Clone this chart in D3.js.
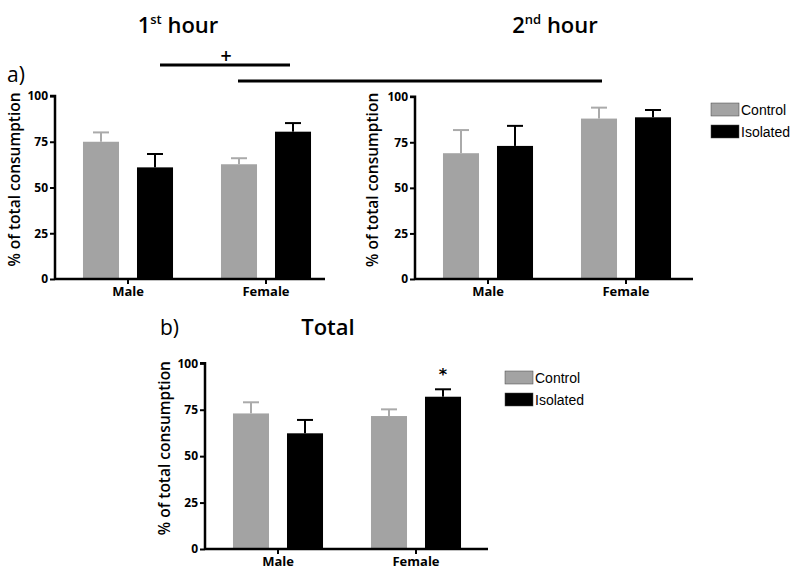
<!DOCTYPE html>
<html>
<head>
<meta charset="utf-8">
<script src="https://cdn.jsdelivr.net/npm/d3@7"></script>
<style>
  body { margin: 0; background: #fff; }
  svg text { fill: #000; }
</style>
</head>
<body>
<svg id="chart" width="800" height="577"></svg>
<script>
const groups = ["Male", "Female"];
const treatments = ["Control", "Isolated"];
const yTicks = [0, 25, 50, 75, 100];

// means and SEM, [Male, Female]
const hour1Control = [75, 62.7];
const hour1ControlErr = [5.1, 3.3];
const hour1Isolated = [61, 80.5];
const hour1IsolatedErr = [7.3, 4.7];

const hour2Control = [69, 88];
const hour2ControlErr = [12.7, 6];
const hour2Isolated = [73, 88.7];
const hour2IsolatedErr = [11, 4];

const totalControl = [73, 71.6];
const totalControlErr = [6, 3.6];
const totalIsolated = [62.3, 82];
const totalIsolatedErr = [7.2, 4];

const colors = { Control: "#a3a3a3", Isolated: "#000000" };
const errColors = { Control: "#aaaaaa", Isolated: "#000000" };

const svg = d3.select("#chart");

function rows(ctrl, ctrlErr, iso, isoErr) {
  const out = [];
  groups.forEach((g, i) => {
    out.push({ group: g, treat: "Control", value: ctrl[i], err: ctrlErr[i] });
    out.push({ group: g, treat: "Isolated", value: iso[i], err: isoErr[i] });
  });
  return out;
}

function drawPanel(p) {
  const g = svg.append("g");

  const y = d3.scaleLinear().domain([0, 100]).range([p.bottom, p.top]);

  const x = d3.scaleBand()
    .domain(groups)
    .range([p.left + 4, p.left + 280]);

  const xSub = d3.scaleBand()
    .domain(treatments)
    .range([0, x.bandwidth()])
    .paddingInner(0.333)
    .paddingOuter(0.444);

  // bars
  g.selectAll("rect.bar")
    .data(p.data)
    .enter()
    .append("rect")
    .attr("class", "bar")
    .attr("x", d => x(d.group) + xSub(d.treat))
    .attr("width", xSub.bandwidth())
    .attr("y", d => y(d.value))
    .attr("height", d => y(0) - y(d.value))
    .attr("fill", d => colors[d.treat]);

  // upward error bars with cap
  const eb = g.selectAll("g.err")
    .data(p.data)
    .enter()
    .append("g")
    .attr("stroke", d => errColors[d.treat])
    .attr("stroke-width", 2);

  eb.append("line")
    .attr("x1", d => x(d.group) + xSub(d.treat) + xSub.bandwidth() / 2)
    .attr("x2", d => x(d.group) + xSub(d.treat) + xSub.bandwidth() / 2)
    .attr("y1", d => y(d.value))
    .attr("y2", d => y(d.value + d.err));

  eb.append("line")
    .attr("x1", d => x(d.group) + xSub(d.treat) + xSub.bandwidth() / 2 - 8)
    .attr("x2", d => x(d.group) + xSub(d.treat) + xSub.bandwidth() / 2 + 8)
    .attr("y1", d => y(d.value + d.err))
    .attr("y2", d => y(d.value + d.err));

  // y axis
  const yAxis = g.append("g")
    .attr("transform", `translate(${p.left},0)`)
    .call(d3.axisLeft(y).tickValues(yTicks).tickSize(5).tickPadding(2));
  yAxis.select(".domain").attr("stroke-width", 2.5).attr("d", `M-5,${p.top}H0V${p.bottom}`);
  yAxis.selectAll(".tick line").attr("stroke-width", 2);
  yAxis.selectAll("text")
    .attr("font-family", "'Open Sans', sans-serif")
    .attr("font-weight", 700)
    .attr("font-size", 12);

  // x axis
  const xAxis = g.append("g")
    .attr("transform", `translate(0,${p.bottom})`)
    .call(d3.axisBottom(x).tickSize(5).tickPadding(3));
  xAxis.select(".domain").attr("stroke-width", 2.5).attr("d", `M${p.left},0H${p.right}`);
  xAxis.selectAll(".tick line").attr("stroke-width", 2);
  xAxis.selectAll("text")
    .attr("font-family", "'Open Sans', sans-serif")
    .attr("font-weight", 700)
    .attr("font-size", 13);

  // y label
  g.append("text")
    .attr("transform", `translate(${p.labelX},${(p.top + p.bottom) / 2 - 8}) rotate(-90)`)
    .attr("text-anchor", "middle")
    .attr("font-family", "'Open Sans', sans-serif")
    .attr("font-weight", 600)
    .attr("font-size", 15.5)
    .text("% of total consumption");

  // title
  const t = g.append("text")
    .attr("x", p.titleX)
    .attr("y", p.titleY)
    .attr("text-anchor", "middle")
    .attr("font-family", "'Open Sans', sans-serif")
    .attr("font-weight", 600)
    .attr("font-size", 22);
  t.append("tspan").text(p.title[0]);
  if (p.title[1]) {
    t.append("tspan").attr("dy", -9).attr("font-size", 13).text(p.title[1]);
    t.append("tspan").attr("dy", 9).text(p.title[2]);
  }

  if (p.legend) {
    const lg = g.append("g").attr("transform", `translate(${p.legend[0]},${p.legend[1]})`);
    treatments.forEach((tr, i) => {
      lg.append("rect")
        .attr("x", 0).attr("y", i * 22)
        .attr("width", 28).attr("height", 13)
        .attr("fill", colors[tr])
        .attr("stroke", "#444").attr("stroke-width", 0.5);
      lg.append("text")
        .attr("x", 30).attr("y", i * 22 + 12)
        .attr("font-family", "'Liberation Sans', Arial, sans-serif")
        .attr("font-size", 14)
        .text(tr);
    });
  }

  return { x, xSub, y };
}

drawPanel({
  data: rows(hour1Control, hour1ControlErr, hour1Isolated, hour1IsolatedErr),
  left: 55, right: 325, top: 96, bottom: 279, labelX: 20,
  title: ["1", "st", " hour"], titleX: 178, titleY: 33,
  legend: null
});

drawPanel({
  data: rows(hour2Control, hour2ControlErr, hour2Isolated, hour2IsolatedErr),
  left: 415, right: 693, top: 96.7, bottom: 279, labelX: 378,
  title: ["2", "nd", "  hour"], titleX: 555, titleY: 33,
  legend: [711, 103]
});

const pTotal = drawPanel({
  data: rows(totalControl, totalControlErr, totalIsolated, totalIsolatedErr),
  left: 205, right: 488, top: 363.3, bottom: 549, labelX: 170,
  title: ["Total"], titleX: 328, titleY: 335,
  legend: [505, 371]
});

// panel letters
svg.append("text").attr("x", 7).attr("y", 82)
  .attr("font-family", "'Open Sans', sans-serif").attr("font-size", 21).text("a)");
svg.append("text").attr("x", 160).attr("y", 335)
  .attr("font-family", "'Open Sans', sans-serif").attr("font-size", 21).text("b)");

// significance lines, panel a
svg.append("line").attr("x1", 160).attr("x2", 290).attr("y1", 65).attr("y2", 65)
  .attr("stroke", "#000").attr("stroke-width", 3);
svg.append("text").attr("x", 226).attr("y", 61).attr("text-anchor", "middle")
  .attr("font-family", "'DejaVu Sans', sans-serif").attr("font-weight", 700)
  .attr("font-size", 15).text("+");
svg.append("line").attr("x1", 238).attr("x2", 602).attr("y1", 81).attr("y2", 81)
  .attr("stroke", "#000").attr("stroke-width", 3);

// asterisk above female isolated (total)
const fi = pTotal.x("Female") + pTotal.xSub("Isolated") + pTotal.xSub.bandwidth() / 2;
svg.append("text").attr("x", fi).attr("y", 380).attr("text-anchor", "middle")
  .attr("font-family", "'DejaVu Sans', sans-serif").attr("font-weight", 700)
  .attr("font-size", 16).text("*");
</script>
</body>
</html>
